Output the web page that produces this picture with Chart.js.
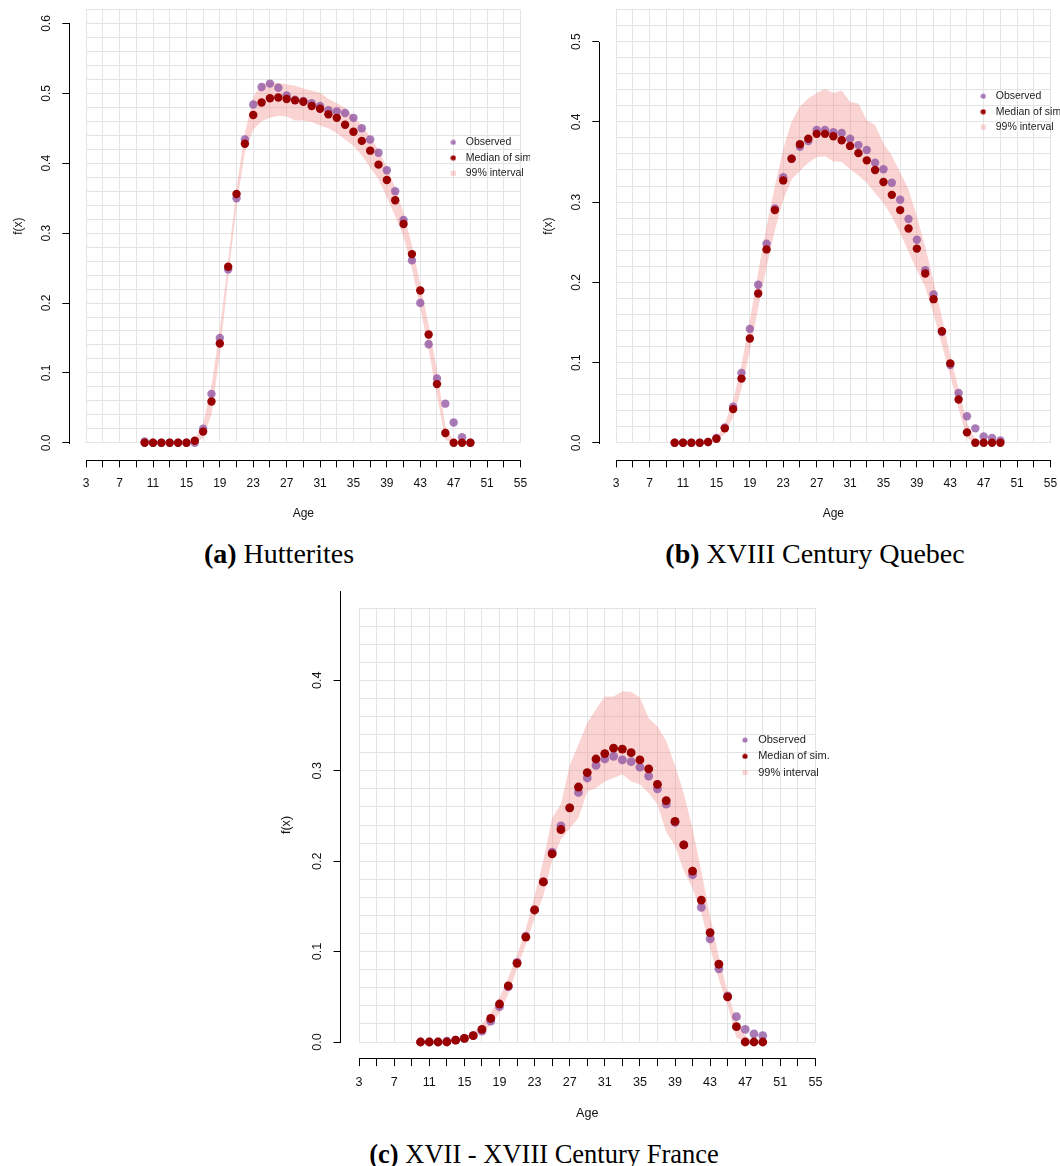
<!DOCTYPE html>
<html lang="en">
<head>
<meta charset="UTF-8">
<title>Age-specific fertility: observed vs simulated</title>
<script src="https://cdn.jsdelivr.net/npm/chart.js"></script>
<style>
  body { margin: 0; background: #fff; }
  #page { position: relative; width: 1060px; height: 1166px; overflow: hidden; background: #fff; }
  .panel { position: absolute; overflow: hidden; }
  .panel canvas { position: absolute; left: 0; top: 0; }
  .caption {
    position: absolute; transform: translateX(-50%); white-space: nowrap; color: #000;
    font-family: "Liberation Serif", "Times New Roman", serif; font-size: 28px; line-height: 28px;
  }
</style>
</head>
<body>
<div id="page">
  <div class="panel" style="left:0;top:0;width:530px;height:530px"><canvas id="hut" width="530" height="530"></canvas></div>
  <div class="panel" style="left:530px;top:0;width:530px;height:530px"><canvas id="que" width="530" height="530"></canvas></div>
  <div class="panel" style="left:260px;top:591px;width:575px;height:539px"><canvas id="fra" width="575" height="539"></canvas></div>
  <div class="caption" style="left:279px;top:540px"><b>(a)</b> Hutterites</div>
  <div class="caption" style="left:815px;top:540px"><b>(b)</b> XVIII Century Quebec</div>
  <div class="caption" style="left:544px;top:1140px;font-size:26.5px"><b>(c)</b> XVII - XVIII Century France</div>
</div>
<script>
// ages on the x axis
const ages = [10, 11, 12, 13, 14, 15, 16, 17, 18, 19, 20, 21, 22, 23, 24, 25, 26, 27, 28, 29,
              30, 31, 32, 33, 34, 35, 36, 37, 38, 39, 40, 41, 42, 43, 44, 45, 46, 47, 48, 49];
const xTicks = [3, 5, 7, 9, 11, 13, 15, 17, 19, 21, 23, 25, 27, 29, 31, 33, 35, 37, 39, 41, 43, 45, 47, 49, 51, 53, 55];
const xLabels = [3, 7, 11, 15, 19, 23, 27, 31, 35, 39, 43, 47, 51, 55];

// (a) Hutterites
const hutObserved = [0.002, 0, 0, 0, 0, 0, 0, 0.020, 0.070, 0.150, 0.248, 0.350, 0.434, 0.484, 0.509, 0.514, 0.508, 0.497, 0.491, 0.489,
                     0.486, 0.482, 0.476, 0.474, 0.472, 0.465, 0.450, 0.434, 0.415, 0.390, 0.360, 0.319, 0.261, 0.200, 0.141, 0.092, 0.056, 0.029, 0.008, 0];
const hutMedian = [0, 0, 0, 0, 0, 0, 0.003, 0.016, 0.059, 0.142, 0.252, 0.356, 0.428, 0.469, 0.487, 0.493, 0.494, 0.492, 0.490, 0.488,
                   0.482, 0.478, 0.470, 0.465, 0.455, 0.445, 0.432, 0.418, 0.398, 0.376, 0.347, 0.313, 0.270, 0.218, 0.155, 0.084, 0.014, 0, 0, 0];
const hutLower = [0, 0, 0, 0, 0, 0, 0, 0.007, 0.041, 0.126, 0.237, 0.339, 0.416, 0.448, 0.460, 0.465, 0.468, 0.467, 0.461, 0.461,
                  0.459, 0.454, 0.450, 0.443, 0.434, 0.425, 0.411, 0.394, 0.377, 0.351, 0.324, 0.295, 0.249, 0.193, 0.133, 0.068, 0.004, 0, 0, 0];
const hutUpper = [0, 0, 0, 0, 0, 0, 0.005, 0.027, 0.082, 0.162, 0.261, 0.365, 0.443, 0.495, 0.513, 0.516, 0.515, 0.513, 0.511, 0.507,
                  0.504, 0.501, 0.492, 0.486, 0.479, 0.467, 0.454, 0.438, 0.419, 0.394, 0.365, 0.329, 0.283, 0.227, 0.169, 0.104, 0.024, 0.002, 0, 0];
const hutYTicks = [0, 0.1, 0.2, 0.3, 0.4, 0.5, 0.6];

// (b) XVIII Century Quebec
const queObserved = [0, 0, 0, 0, 0.001, 0.006, 0.019, 0.045, 0.087, 0.142, 0.197, 0.248, 0.292, 0.331, 0.354, 0.369, 0.376, 0.390, 0.390, 0.387,
                     0.386, 0.379, 0.371, 0.365, 0.349, 0.341, 0.324, 0.303, 0.279, 0.253, 0.215, 0.185, 0.138, 0.097, 0.062, 0.033, 0.018, 0.008, 0.006, 0.003];
const queMedian = [0, 0, 0, 0, 0.001, 0.005, 0.018, 0.042, 0.080, 0.130, 0.186, 0.241, 0.290, 0.327, 0.354, 0.372, 0.379, 0.385, 0.385, 0.382,
                   0.377, 0.370, 0.361, 0.352, 0.340, 0.325, 0.309, 0.290, 0.267, 0.242, 0.211, 0.179, 0.139, 0.099, 0.054, 0.013, 0, 0, 0, 0];
const queLower = [0, 0, 0, 0, 0, 0.002, 0.011, 0.032, 0.067, 0.114, 0.168, 0.219, 0.265, 0.303, 0.328, 0.339, 0.349, 0.356, 0.357, 0.351,
                  0.350, 0.341, 0.333, 0.324, 0.311, 0.299, 0.282, 0.261, 0.238, 0.215, 0.194, 0.160, 0.122, 0.084, 0.042, 0.006, 0, 0, 0, 0];
const queUpper = [0, 0, 0, 0, 0.002, 0.006, 0.023, 0.053, 0.097, 0.152, 0.213, 0.269, 0.320, 0.366, 0.400, 0.419, 0.429, 0.436, 0.441, 0.436,
                  0.439, 0.425, 0.423, 0.402, 0.396, 0.373, 0.358, 0.337, 0.316, 0.282, 0.244, 0.202, 0.156, 0.109, 0.067, 0.025, 0.004, 0, 0, 0];
const queYTicks = [0, 0.1, 0.2, 0.3, 0.4, 0.5];

// (c) XVII - XVIII Century France
const fraObserved = [0, 0, 0, 0.001, 0.002, 0.004, 0.007, 0.012, 0.023, 0.039, 0.061, 0.088, 0.117, 0.146, 0.177, 0.210, 0.239, 0.259, 0.276, 0.292,
                     0.306, 0.313, 0.316, 0.312, 0.310, 0.304, 0.294, 0.280, 0.263, 0.243, 0.218, 0.185, 0.149, 0.114, 0.081, 0.051, 0.028, 0.014, 0.009, 0.007];
const fraMedian = [0, 0, 0, 0, 0.002, 0.004, 0.007, 0.014, 0.026, 0.042, 0.062, 0.087, 0.116, 0.146, 0.177, 0.208, 0.235, 0.259, 0.282, 0.298,
                   0.313, 0.319, 0.325, 0.324, 0.320, 0.312, 0.302, 0.285, 0.267, 0.244, 0.218, 0.189, 0.157, 0.121, 0.086, 0.050, 0.017, 0, 0, 0];
const fraLower = [0, 0, 0, 0, 0.001, 0.002, 0.005, 0.011, 0.018, 0.032, 0.053, 0.081, 0.108, 0.137, 0.162, 0.201, 0.224, 0.236, 0.248, 0.277,
                  0.281, 0.288, 0.292, 0.296, 0.288, 0.285, 0.275, 0.263, 0.232, 0.217, 0.189, 0.170, 0.143, 0.104, 0.069, 0.040, 0.005, 0, 0, 0];
const fraUpper = [0, 0, 0, 0, 0.002, 0.005, 0.011, 0.020, 0.032, 0.049, 0.071, 0.096, 0.125, 0.162, 0.201, 0.248, 0.263, 0.306, 0.329, 0.353,
                  0.368, 0.382, 0.382, 0.388, 0.387, 0.381, 0.358, 0.349, 0.333, 0.306, 0.275, 0.236, 0.189, 0.139, 0.094, 0.055, 0.024, 0.007, 0, 0];
const fraYTicks = [0, 0.1, 0.2, 0.3, 0.4];

const OBS = 'rgba(140, 80, 160, 0.75)';
const MED = '#990000';
const BAND = 'rgba(240, 120, 120, 0.33)';
const GRID = '#e4e4e4';
const INK = '#111';
const SANS = '"Liberation Sans", Arial, Helvetica, sans-serif';

function xy(values) {
    return ages.map((a, i) => ({ x: a, y: values[i] }));
}

// small canvases used as legend symbols
function marker(shape, color, size) {
    const c = document.createElement('canvas');
    c.width = size;
    c.height = size;
    const g = c.getContext('2d');
    g.fillStyle = color;
    if (shape === 'circle') {
        g.beginPath();
        g.arc(size / 2, size / 2, size / 2 - 0.4, 0, Math.PI * 2);
        g.fill();
    } else {
        g.fillRect(1, 1, size - 2, size - 2);
    }
    return c;
}

// R draws the y axis line only between its first and last tick
const axisLine = {
    id: 'axisLine',
    afterDraw(chart, args, opts) {
        const s = chart.scales.yAxis;
        const ctx = chart.ctx;
        const x = Math.round(s.right - 0.5) + 0.5;
        ctx.save();
        ctx.strokeStyle = '#000';
        ctx.lineWidth = 1;
        ctx.beginPath();
        ctx.moveTo(x, Math.round(s.getPixelForValue(opts.from)) + 1);
        ctx.lineTo(x, Math.round(s.getPixelForValue(opts.to)));
        ctx.stroke();
        ctx.restore();
    }
};

// put the legend inside the plot at a data position (x, y of the first symbol)
const legendAt = {
    id: 'legendAt',
    afterLayout(chart, args, opts) {
        const lg = chart.legend;
        if (!lg) return;
        const lab = lg.options.labels;
        const cx = chart.scales.x.getPixelForValue(opts.x);
        const cy = chart.scales.y.getPixelForValue(opts.y);
        lg.left = cx - lab.pointStyleWidth / 2 - lab.padding;
        lg.top = cy - lab.padding - lab.font.size / 2;
        lg.width = 200;
        lg.height = 120;
        lg.right = lg.left + lg.width;
        lg.bottom = lg.top + lg.height;
    }
};

// the plot region is fixed by the layout padding, not by label overhang
function noOverhang(s) {
    s.paddingLeft = 0;
    s.paddingRight = 0;
    s.paddingTop = 0;
    s.paddingBottom = 0;
}

function makePanel(id, p) {
    const k = p.scale;
    const tickFont = { family: SANS, size: 12 * k };
    const legendFont = { family: SANS, size: 10.5 * k };
    const tl = 7 * k;
    const symbols = [
        { text: 'Observed', pointStyle: marker('circle', OBS, Math.round(6 * k)) },
        { text: 'Median of sim.', pointStyle: marker('circle', MED, Math.round(6 * k)) },
        { text: '99% interval', pointStyle: marker('square', BAND, Math.round(7 * k)) }
    ];
    const gridTicksY = [];
    for (let v = 0; v <= p.yMax + 1e-9; v += 0.02) gridTicksY.push({ value: Math.round(v * 100) / 100 });

    return new Chart(document.getElementById(id), {
        type: 'line',
        data: {
            datasets: [
                { label: 'Median of sim.', data: xy(p.median), showLine: false, clip: false,
                  pointRadius: 4.2 * k, pointBackgroundColor: MED, pointBorderWidth: 0, borderColor: MED },
                { label: 'Observed', data: xy(p.observed), showLine: false, clip: false,
                  pointRadius: 4.2 * k, pointBackgroundColor: OBS, pointBorderWidth: 0, borderColor: OBS },
                { label: '99% upper', data: xy(p.upper), fill: '+1', backgroundColor: BAND,
                  borderColor: 'rgba(0,0,0,0)', borderWidth: 0, pointRadius: 0, tension: 0 },
                { label: '99% lower', data: xy(p.lower), fill: false,
                  borderColor: 'rgba(0,0,0,0)', borderWidth: 0, pointRadius: 0, tension: 0 }
            ]
        },
        options: {
            responsive: false,
            devicePixelRatio: 1,
            animation: false,
            events: [],
            layout: { padding: p.padding },
            plugins: {
                tooltip: { enabled: false },
                legend: {
                    position: 'chartArea',
                    align: 'start',
                    labels: {
                        usePointStyle: true,
                        pointStyleWidth: 14.5 * k,
                        padding: 5 * k,
                        font: legendFont,
                        generateLabels: () => symbols.map(s => ({
                            text: s.text, pointStyle: s.pointStyle, fontColor: '#222',
                            fillStyle: 'rgba(0,0,0,0)', strokeStyle: 'rgba(0,0,0,0)', lineWidth: 0, hidden: false
                        }))
                    }
                },
                legendAt: p.legend,
                axisLine: { from: 0, to: p.axisTop }
            },
            scales: {
                x: {
                    type: 'linear', position: 'bottom', weight: 0, min: 3, max: 55,
                    afterBuildTicks: s => { s.ticks = xTicks.map(v => ({ value: v })); },
                    afterFit: s => { s.height = p.gapX; noOverhang(s); },
                    ticks: { display: false },
                    border: { display: false },
                    grid: { color: GRID, lineWidth: 1, drawTicks: false }
                },
                xAxis: {
                    type: 'linear', position: 'bottom', weight: 1, min: 3, max: 55,
                    afterBuildTicks: s => { s.ticks = xTicks.map(v => ({ value: v })); },
                    afterFit: s => { s.height = p.xAxisH; noOverhang(s); },
                    ticks: {
                        autoSkip: false, maxRotation: 0, minRotation: 0, padding: p.xPad,
                        color: INK, font: tickFont,
                        callback: v => xLabels.includes(v) ? String(v) : ''
                    },
                    border: { display: true, color: '#000', width: 1 },
                    grid: { drawOnChartArea: false, drawTicks: true, tickLength: tl, color: '#000', tickColor: '#000' },
                    title: { display: true, text: 'Age', color: INK, font: tickFont, padding: { top: 0, bottom: p.titleB } }
                },
                y: {
                    type: 'linear', position: 'left', weight: 0, min: 0, max: p.yMax,
                    afterBuildTicks: s => { s.ticks = gridTicksY.slice(); },
                    afterFit: s => { s.width = p.gapY; noOverhang(s); },
                    ticks: { display: false },
                    border: { display: false },
                    grid: { color: GRID, lineWidth: 1, drawTicks: false }
                },
                yAxis: {
                    type: 'linear', position: 'left', weight: 1, min: 0, max: p.yMax,
                    afterBuildTicks: s => { s.ticks = p.yTicks.map(v => ({ value: v })); },
                    afterFit: s => { s.width = p.yAxisW; noOverhang(s); },
                    ticks: {
                        minRotation: 90, maxRotation: 90, crossAlign: 'center', padding: p.yPad,
                        color: INK, font: tickFont,
                        callback: v => v.toFixed(1)
                    },
                    border: { display: true, color: 'rgba(0,0,0,0)', width: 1 },
                    grid: { drawOnChartArea: false, drawTicks: true, tickLength: tl, color: '#000', tickColor: '#000' },
                    title: { display: true, text: 'f(x)', color: INK, font: tickFont, padding: { top: p.titleL, bottom: 0 } }
                }
            }
        },
        plugins: [axisLine, legendAt]
    });
}

const topRow = {
    scale: 1,
    padding: { left: 0, top: 9.5, right: 9.5, bottom: 0 },
    yAxisW: 69.3, gapY: 16.9, gapX: 17.6, xAxisH: 69.6,
    yPad: 7.3, xPad: 9.4, titleL: 11.4, titleB: 9
};

makePanel('hut', Object.assign({}, topRow, {
    observed: hutObserved, median: hutMedian, lower: hutLower, upper: hutUpper,
    yMax: 0.62, yTicks: hutYTicks, axisTop: 0.6,
    legend: { x: 46.95, y: 0.430 }
}));

makePanel('que', Object.assign({}, topRow, {
    observed: queObserved, median: queMedian, lower: queLower, upper: queUpper,
    yMax: 0.54, yTicks: queYTicks, axisTop: 0.5,
    legend: { x: 46.95, y: 0.432 }
}));

makePanel('fra', {
    scale: 1.05,
    padding: { left: 0, top: 17, right: 19.6, bottom: 0 },
    yAxisW: 80.9, gapY: 18.2, gapX: 16.8, xAxisH: 71.2,
    yPad: 7.4, xPad: 9.3, titleL: 19, titleB: 9.4,
    observed: fraObserved, median: fraMedian, lower: fraLower, upper: fraUpper,
    yMax: 0.48, yTicks: fraYTicks, axisTop: 0.5,
    legend: { x: 46.98, y: 0.334 }
});
</script>
</body>
</html>
